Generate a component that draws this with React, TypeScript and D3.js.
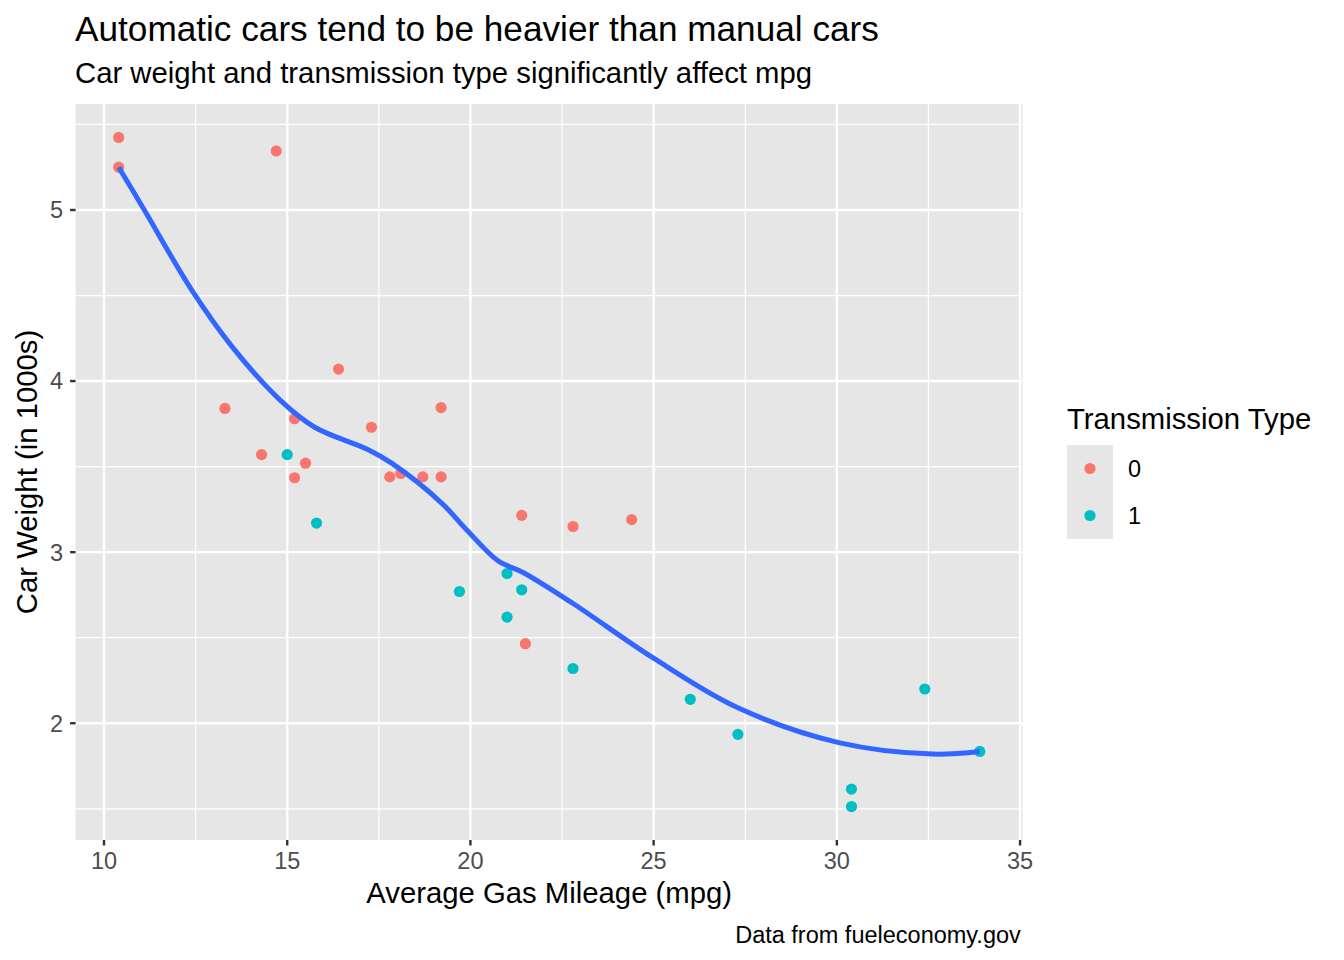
import React from "react";
import * as d3 from "d3";

// mtcars: mpg, wt, am
const mpg = [21.0, 21.0, 22.8, 21.4, 18.7, 18.1, 14.3, 24.4, 22.8, 19.2, 17.8, 16.4, 17.3, 15.2, 10.4, 10.4, 14.7, 32.4, 30.4, 33.9, 21.5, 15.5, 15.2, 13.3, 19.2, 27.3, 26.0, 30.4, 15.8, 19.7, 15.0, 21.4];
const wt = [2.62, 2.875, 2.32, 3.215, 3.44, 3.46, 3.57, 3.19, 3.15, 3.44, 3.44, 4.07, 3.73, 3.78, 5.25, 5.424, 5.345, 2.2, 1.615, 1.835, 2.465, 3.52, 3.435, 3.84, 3.845, 1.935, 2.14, 1.513, 3.17, 2.77, 3.57, 2.78];
const am = [1, 1, 1, 0, 0, 0, 0, 0, 0, 0, 0, 0, 0, 0, 0, 0, 0, 1, 1, 1, 0, 0, 0, 0, 0, 1, 1, 1, 1, 1, 1, 1];

// smooth curve
const smoothX = [10.4, 11.1, 12.4, 13.5, 14.8, 15.75, 17.2, 17.85, 19.2, 19.9, 20.75, 21.45, 22.8, 25.0, 27.3, 30.05, 32.6, 33.9];
const smoothY = [5.25, 5.0, 4.53, 4.2, 3.89, 3.73, 3.6, 3.52, 3.29, 3.13, 2.95, 2.88, 2.7, 2.38, 2.09, 1.887, 1.82, 1.835];

const xTicks = [10, 15, 20, 25, 30, 35];
const xMinor = [12.5, 17.5, 22.5, 27.5, 32.5];
const yTicks = [2, 3, 4, 5];
const yMinor = [1.5, 2.5, 3.5, 4.5, 5.5];
const amLevels = ["0", "1"];
const amColors = ["#F8766D", "#00BFC4"];

const W = 1344;
const H = 960;
const panel = { left: 75.6, right: 1022.8, top: 104, bottom: 840 };

export default function App() {
  const x = d3.scaleLinear().domain([9.225, 35.075]).range([panel.left, panel.right]);
  const y = d3.scaleLinear().domain([1.3175, 5.6195]).range([panel.bottom, panel.top]);
  const color = d3.scaleOrdinal<string>().domain(amLevels).range(amColors);

  const line = d3
    .line<number>()
    .x((d) => x(smoothX[d]))
    .y((d) => y(smoothY[d]))
    .curve(d3.curveCatmullRom.alpha(0.5));

  const font = "Liberation Sans, Arial, Helvetica, sans-serif";
  const bg = "#E6E6E6";

  return (
    <svg width={W} height={H} style={{ display: "block", position: "absolute", left: 0, top: 0 }} fontFamily={font}>
      <rect width={W} height={H} fill="#fff" />
      <text x={75} y={41} fontSize={35.2} fill="#000">
        Automatic cars tend to be heavier than manual cars
      </text>
      <text x={75} y={83} fontSize={29.3} fill="#000">
        Car weight and transmission type significantly affect mpg
      </text>

      <rect x={panel.left} y={panel.top} width={panel.right - panel.left} height={panel.bottom - panel.top} fill={bg} />
      {xMinor.map((t) => (
        <line key={"xm" + t} x1={x(t)} x2={x(t)} y1={panel.top} y2={panel.bottom} stroke="#fff" strokeWidth={1.2} />
      ))}
      {yMinor.map((t) => (
        <line key={"ym" + t} y1={y(t)} y2={y(t)} x1={panel.left} x2={panel.right} stroke="#fff" strokeWidth={1.2} />
      ))}
      {xTicks.map((t) => (
        <line key={"xg" + t} x1={x(t)} x2={x(t)} y1={panel.top} y2={panel.bottom} stroke="#fff" strokeWidth={2.4} />
      ))}
      {yTicks.map((t) => (
        <line key={"yg" + t} y1={y(t)} y2={y(t)} x1={panel.left} x2={panel.right} stroke="#fff" strokeWidth={2.4} />
      ))}

      {mpg.map((m, i) => (
        <circle key={i} cx={x(m)} cy={y(wt[i])} r={5.6} fill={color(String(am[i]))} />
      ))}

      <path d={line(d3.range(smoothX.length)) || ""} fill="none" stroke="#3366FF" strokeWidth={5} />

      {/* axes */}
      {xTicks.map((t) => (
        <g key={"xt" + t}>
          <line x1={x(t)} x2={x(t)} y1={panel.bottom} y2={panel.bottom + 5.5} stroke="#333" strokeWidth={2.4} />
          <text x={x(t)} y={869} fontSize={23.5} fill="#4D4D4D" textAnchor="middle">
            {t}
          </text>
        </g>
      ))}
      {yTicks.map((t) => (
        <g key={"yt" + t}>
          <line x1={panel.left - 5.5} x2={panel.left} y1={y(t)} y2={y(t)} stroke="#333" strokeWidth={2.4} />
          <text x={63} y={y(t) + 8.4} fontSize={23.5} fill="#4D4D4D" textAnchor="end">
            {t}
          </text>
        </g>
      ))}
      <text x={(panel.left + panel.right) / 2} y={903} fontSize={29.3} fill="#000" textAnchor="middle">
        Average Gas Mileage (mpg)
      </text>
      <text
        transform={`translate(37, ${(panel.top + panel.bottom) / 2}) rotate(-90)`}
        fontSize={29.3}
        fill="#000"
        textAnchor="middle"
      >
        Car Weight (in 1000s)
      </text>

      {/* legend */}
      <text x={1067} y={429} fontSize={29.3} fill="#000">
        Transmission Type
      </text>
      {amLevels.map((lv, i) => (
        <g key={lv} transform={`translate(1067, ${445 + i * 47})`}>
          <rect width={46} height={47} fill={bg} />
          <circle cx={23} cy={23.5} r={5.6} fill={color(lv)} />
          <text x={61} y={32} fontSize={23.5} fill="#000">
            {lv}
          </text>
        </g>
      ))}

      <text x={panel.right - 2} y={943} fontSize={23.5} fill="#000" textAnchor="end">
        Data from fueleconomy.gov
      </text>
    </svg>
  );
}
